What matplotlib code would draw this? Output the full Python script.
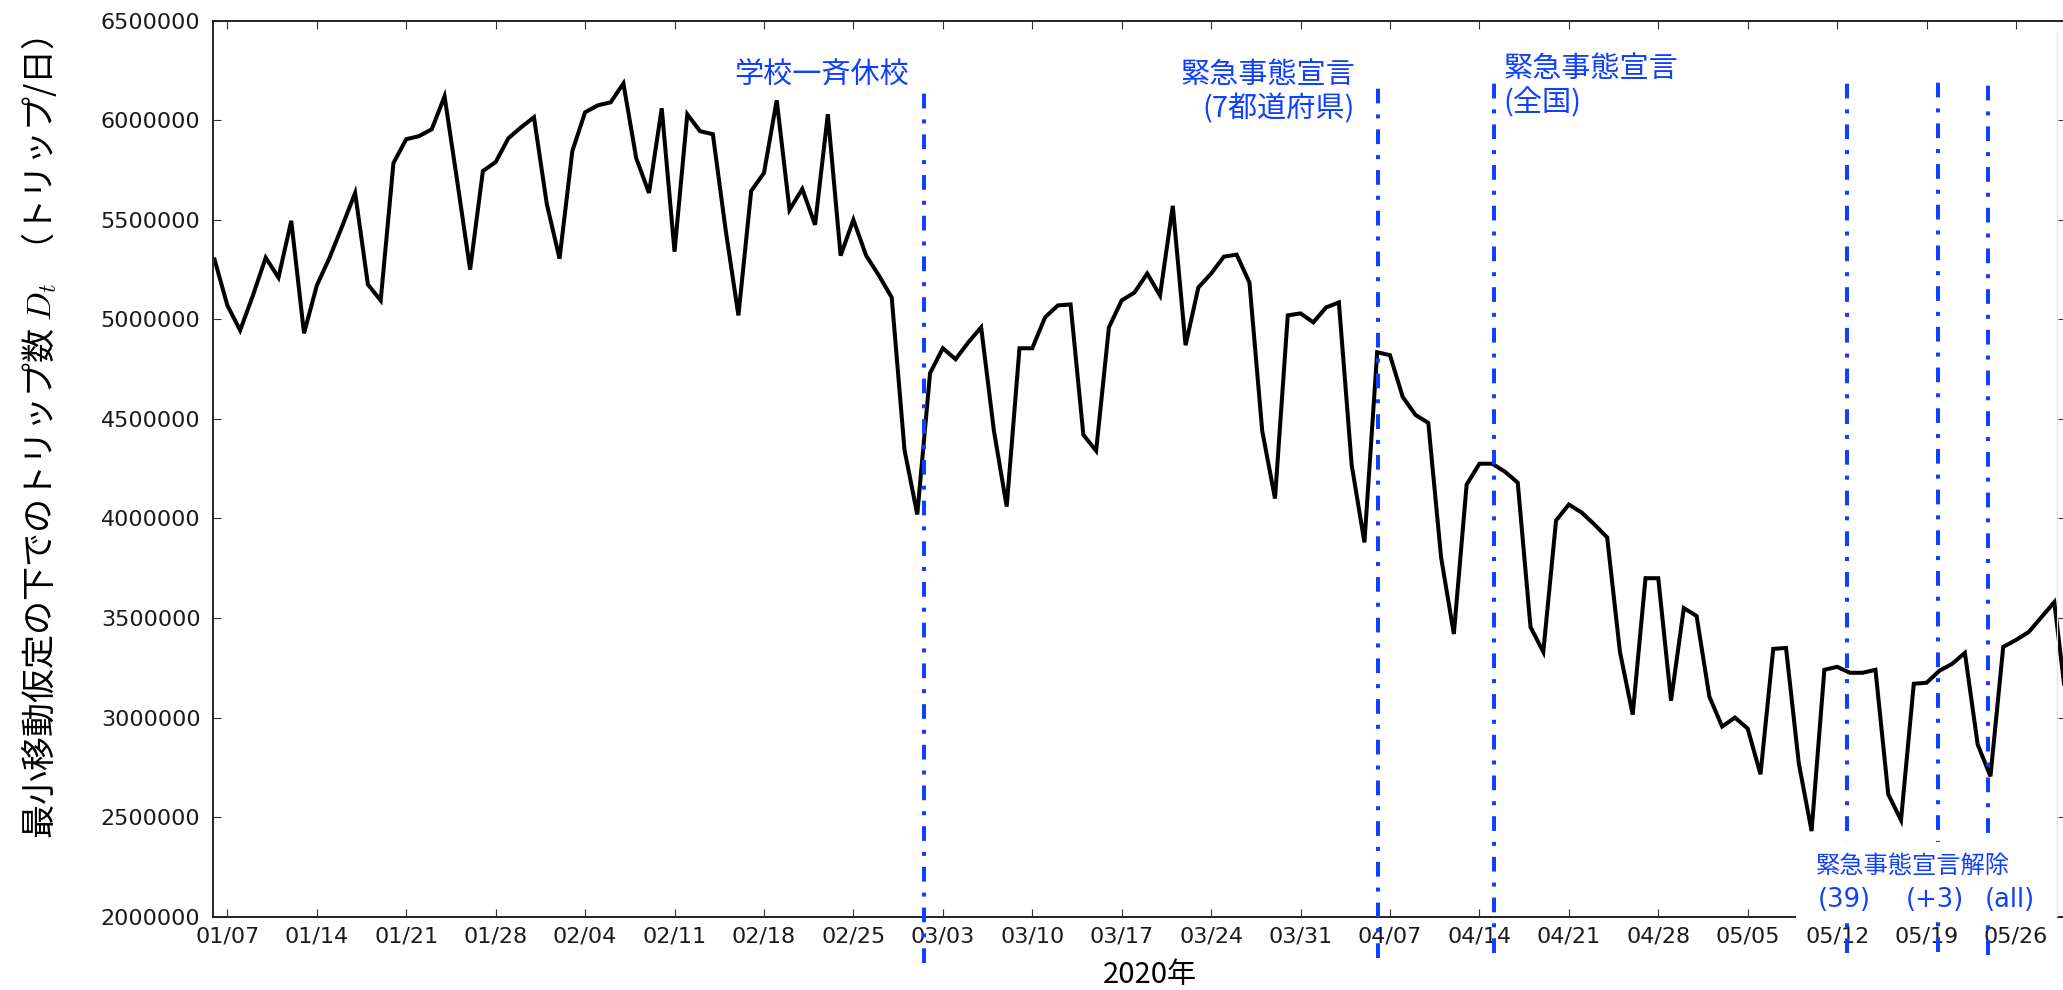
import matplotlib
matplotlib.use('Agg')
import matplotlib.pyplot as plt
import matplotlib.dates as mdates
from matplotlib.patches import Rectangle
from matplotlib.lines import Line2D
from matplotlib.ticker import MultipleLocator, FormatStrFormatter
import pandas as pd

plt.rcParams['font.family'] = ['Noto Sans CJK JP', 'DejaVu Sans']
plt.rcParams['mathtext.fontset'] = 'cm'
plt.rcParams['lines.scale_dashes'] = False

# daily trips under the minimum-movement assumption, from 2020-01-06
start_date = '2020-01-06'
trips = [
    5300000, 5070000, 4945000, 5120000, 5310000, 5210000, 5495000, 4930000,
    5170000, 5310000, 5470000, 5635000, 5175000, 5095000, 5785000, 5905000,
    5920000, 5955000, 6120000, 5690000, 5250000, 5745000, 5790000, 5910000,
    5965000, 6015000, 5580000, 5305000, 5845000, 6040000, 6075000, 6090000,
    6185000, 5810000, 5635000, 6060000, 5340000, 6030000, 5945000, 5930000,
    5450000, 5020000, 5645000, 5735000, 6100000, 5550000, 5655000, 5475000,
    6030000, 5320000, 5500000, 5320000, 5220000, 5110000, 4345000, 4020000,
    4730000, 4855000, 4800000, 4885000, 4960000, 4440000, 4060000, 4855000,
    4855000, 5010000, 5070000, 5075000, 4420000, 4340000, 4960000, 5095000,
    5135000, 5230000, 5120000, 5570000, 4870000, 5160000, 5230000, 5315000,
    5325000, 5185000, 4440000, 4100000, 5020000, 5030000, 4985000, 5060000,
    5085000, 4270000, 3880000, 4835000, 4820000, 4610000, 4520000, 4480000,
    3805000, 3420000, 4170000, 4275000, 4275000, 4235000, 4180000, 3455000,
    3330000, 3990000, 4070000, 4030000, 3970000, 3905000, 3330000, 3015000,
    3700000, 3700000, 3085000, 3550000, 3510000, 3105000, 2955000, 3000000,
    2945000, 2715000, 3345000, 3350000, 2770000, 2430000, 3240000, 3255000,
    3225000, 3225000, 3240000, 2615000, 2485000, 3170000, 3175000, 3235000,
    3270000, 3325000, 2865000, 2705000, 3355000, 3390000, 3430000, 3505000,
    3580000, 3040000,
]

# policy events drawn as vertical markers
event_dates = ['2020-03-01 13:00', '2020-04-06 01:00', '2020-04-15 03:00',
               '2020-05-12 19:00', '2020-05-19 21:30', '2020-05-23 20:00']
event_labels = ['学校一斉休校', '緊急事態宣言\n(7都道府県)', '緊急事態宣言\n(全国)']
lift_title = '緊急事態宣言解除'
lift_labels = ['(39)', '(+3)', '(all)']

dates = pd.date_range(start_date, periods=len(trips), freq='D')
events = pd.to_datetime(event_dates)

blue = '#1040ff'
W, H = 2063, 990
fig = plt.figure(figsize=(W / 100, H / 100), dpi=100)
ax = fig.add_axes([213 / W, 1 - 916.7 / H, 1852.5 / W, 896 / H])

ax.plot(dates, trips, color='black', lw=2.9, solid_joinstyle='miter', zorder=2)

ax.set_xlim(pd.Timestamp('2020-01-05 21:00'), pd.Timestamp('2020-05-29 21:00'))
ax.set_ylim(2000000, 6500000)
ax.yaxis.set_major_locator(MultipleLocator(500000))
ax.yaxis.set_major_formatter(FormatStrFormatter('%d'))
ax.xaxis.set_major_locator(mdates.WeekdayLocator(byweekday=mdates.TU))
ax.xaxis.set_major_formatter(mdates.DateFormatter('%m/%d'))

ax.tick_params(direction='in', top=True, right=True, length=6, width=0.8,
               color='#333333', labelsize=16, labelcolor='#1a1a1a')
ax.tick_params(axis='x', pad=7)
ax.tick_params(axis='y', pad=9)
for lab in ax.get_xticklabels() + ax.get_yticklabels():
    lab.set_family(['DejaVu Sans'])
for sp in ax.spines.values():
    sp.set_linewidth(1.4)
    sp.set_color('#222222')

ax.set_ylabel('最小移動仮定の下でのトリップ数 $D_t$  （トリップ/日）',
              fontsize=24.5, va='center')
ax.yaxis.set_label_coords(-0.0939, 0.5345)
ax.set_xlabel('2020年', fontsize=21, va='center')
ax.xaxis.set_label_coords(0.5058, -0.065)

# dash-dot event markers, running past the axes
spans = [(-0.0517, 0.9263), (-0.0461, 0.9319), (-0.0405, 0.9375),
         (-0.0405, 0.9375), (-0.0394, 0.9394), (-0.0427, 0.933)]
trans = ax.get_xaxis_transform()
for ev, (y0, y1) in zip(events, spans):
    ax.add_line(Line2D([ev, ev], [y0, y1], transform=trans, color=blue,
                       lw=2.9, linestyle=(0, (10.6, 7.9, 2.9, 7.9)),
                       clip_on=False, zorder=3))

ax.text(events[0] - pd.Timedelta(hours=28), 0.9388, event_labels[0],
        transform=trans, ha='right', va='center', fontsize=21, color=blue)
ax.text(events[1] - pd.Timedelta(hours=43), 0.9203, event_labels[1],
        transform=trans, ha='right', va='center', multialignment='right',
        fontsize=21, color=blue)
ax.text(events[2] + pd.Timedelta(hours=18), 0.927, event_labels[2],
        transform=trans, ha='left', va='center', multialignment='left',
        fontsize=21, color=blue)

# white label box over the lower right corner
fig.add_artist(Rectangle((1796 / W, 1 - 922 / H), 261 / W, 80 / H,
                         transform=fig.transFigure, facecolor='white',
                         edgecolor='none', zorder=1))
fig.add_artist(Line2D([2057 / W, 2057 / W], [1 - 32 / H, 1 - 916 / H],
                      transform=fig.transFigure, color='#e4e4e4', lw=0.8,
                      zorder=1))
fig.text(1816 / W, 1 - 866 / H, lift_title, ha='left', va='center',
         fontsize=17.5, color=blue)
for cx, lab in zip([1844, 1935, 2010], lift_labels):
    fig.text(cx / W, 1 - 900 / H, lab, ha='center', va='center',
             fontsize=18.5, color=blue, family=['DejaVu Sans'])

fig.savefig('out.png', dpi=100)
